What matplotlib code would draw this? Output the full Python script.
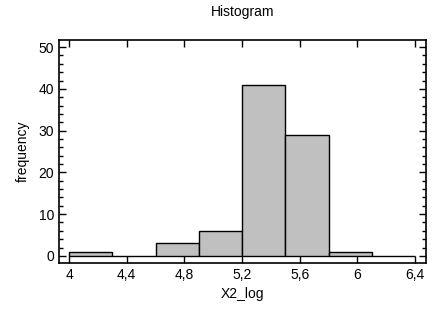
import numpy as np
import matplotlib.pyplot as plt
from matplotlib.ticker import MultipleLocator, FuncFormatter

plt.rcParams['font.family'] = ['Liberation Sans', 'DejaVu Sans']

# bin edges and counts
bin_edges = [4.0, 4.3, 4.6, 4.9, 5.2, 5.5, 5.8, 6.1, 6.4]
counts = [1, 0, 3, 6, 41, 29, 1, 0]
x_ticks = [4, 4.4, 4.8, 5.2, 5.6, 6, 6.4]

fig = plt.figure(figsize=(4.38, 3.19), dpi=100)
ax = fig.add_axes([59 / 438, 1 - 263 / 319, 367 / 438, 223 / 319])

edges = np.array(bin_edges)
ax.bar(edges[:-1], counts, width=np.diff(edges), align='edge',
       color='#c0c0c0', edgecolor='black', linewidth=1)

ax.set_xlim(3.93, 6.476)
ax.set_ylim(-1.7, 51.7)
ax.set_xticks(x_ticks)
ax.xaxis.set_major_formatter(FuncFormatter(lambda v, p: f"{v:g}".replace('.', ',')))
ax.yaxis.set_major_locator(MultipleLocator(10))
ax.yaxis.set_minor_locator(MultipleLocator(2))

ax.tick_params(axis='both', which='both', direction='in', top=True, right=True,
               labelsize=10, colors='black')
ax.tick_params(axis='both', which='major', length=5, width=1)
ax.tick_params(axis='y', which='minor', length=3, width=1)
for s in ax.spines.values():
    s.set_linewidth(1.2)

ax.set_title('Histogram', fontsize=10, pad=17)
ax.set_xlabel('X2_log', fontsize=10, labelpad=4)
ax.set_ylabel('frequency', fontsize=10, labelpad=6)

fig.savefig('out.png', dpi=100)
